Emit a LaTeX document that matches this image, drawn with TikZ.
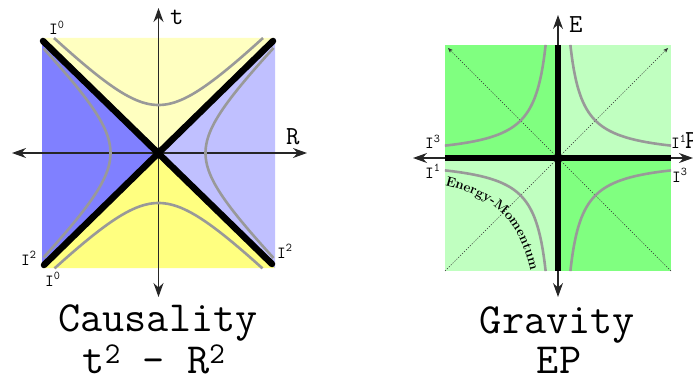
\documentclass[tikz,border=0pt]{standalone}
\usetikzlibrary{arrows.meta,decorations.text}
\definecolor{ylight}{HTML}{FFFFC0}
\definecolor{ydark}{HTML}{FFFF80}
\definecolor{bdark}{HTML}{8080FF}
\definecolor{blight}{HTML}{C0C0FF}
\definecolor{gdark}{HTML}{80FF80}
\definecolor{glight}{HTML}{C0FFC0}
\definecolor{hypgray}{HTML}{999999}
\tikzset{
  axisline/.style={line width=1.2pt, black!85, {Stealth[length=14pt,width=10pt]}-{Stealth[length=14pt,width=10pt]}},
  hyp/.style={line width=2.6pt, hypgray},
  lightcone/.style={line width=6.5pt, black, line cap=round},
  zeroline/.style={line width=5.5pt, black},
  diagline/.style={line width=0.5pt, black!80, dash pattern=on 1.2pt off 1.5pt, -{Stealth[length=5pt,width=4pt]}},
  lab/.style={font=\ttfamily\fontsize{17}{17}\selectfont, inner sep=0pt, anchor=base west},
  axlab/.style={font=\ttfamily\fontsize{26}{26}\selectfont, inner sep=0pt, anchor=base west},
  title/.style={font=\ttfamily\fontsize{43}{43}\selectfont, inner sep=0pt, anchor=base}
}
\begin{document}
\begin{tikzpicture}[x=1pt,y=-1pt]
\useasboundingbox (0,0) rectangle (693,377);
% ---------------- left diagram ----------------
\coordinate (LC) at (158.5,153);
\coordinate (LTL) at (42,38);
\coordinate (LTR) at (275,38);
\coordinate (LBL) at (42,268);
\coordinate (LBR) at (275,268);
\fill[ylight] (LTL) -- (LTR) -- (LC) -- cycle;
\fill[ydark] (LBL) -- (LBR) -- (LC) -- cycle;
\fill[bdark] (LTL) -- (LBL) -- (LC) -- cycle;
\fill[blight] (LTR) -- (LBR) -- (LC) -- cycle;
\coordinate (LW) at (12,153);
\coordinate (LE) at (307,153);
\coordinate (LN) at (158.5,8);
\coordinate (LS) at (158.5,297);
\draw[axisline] (LW) -- (LE);
\draw[axisline] (LN) -- (LS);
\draw[hyp] plot[domain=-104.5:104.5, samples=60] ({158.5+\x},{153-sqrt(2304+\x*\x)});
\draw[hyp] plot[domain=-104:104, samples=60] ({158.5+\x},{153+sqrt(2500+\x*\x)});
\draw[hyp] plot[domain=-104.5:104.5, samples=60] ({158.5-sqrt(2304+\x*\x)},{153+\x});
\draw[hyp] plot[domain=-105:105, samples=60] ({158.5+sqrt(2209+\x*\x)},{153+\x});
\coordinate (XA) at (43,41);
\coordinate (XB) at (272,264);
\coordinate (XC) at (273,41);
\coordinate (XD) at (44,265);
\draw[lightcone] (XA) -- (XB);
\draw[lightcone] (XC) -- (XD);
\node[axlab] (tlab) at (170,25) {t};
\node[axlab] (Rlab) at (286,144) {R};
\node[lab] (l1) at (49,35) {I\textsuperscript{0}};
\node[lab] (l2) at (21,265) {I\textsuperscript{2}};
\node[lab] (l3) at (45,286) {I\textsuperscript{0}};
\node[lab] (l4) at (277,258) {I\textsuperscript{2}};
\node[title] (caus) at (158,331) {Causality};
\node[title] (tr) at (154,373) {t\textsuperscript{2} - R\textsuperscript{2}};
% ---------------- right diagram ----------------
\coordinate (RC) at (558,158);
\fill[gdark] (445,45) rectangle (RC);
\fill[glight] (671,45) rectangle (RC);
\fill[glight] (445,271) rectangle (RC);
\fill[gdark] (671,271) rectangle (RC);
\coordinate (DA) at (671,271);
\coordinate (DB) at (448,48);
\coordinate (DC) at (445,271);
\coordinate (DD) at (668,48);
\draw[diagline] (DA) -- (DB);
\draw[diagline] (DC) -- (DD);
\coordinate (RW) at (413,158);
\coordinate (RE) at (693,158);
\coordinate (RN) at (558,15);
\coordinate (RS) at (558,297);
\draw[axisline] (RW) -- (RE);
\draw[axisline] (RN) -- (RS);
\draw[hyp] plot[domain=-1.106:1.106, samples=60] ({558-37.42*exp(\x)},{158-37.42*exp(-\x)});
\draw[hyp] plot[domain=-1.106:1.106, samples=60] ({558+37.42*exp(\x)},{158-37.42*exp(-\x)});
\draw[hyp] plot[domain=-1.106:1.106, samples=60] ({558-37.42*exp(\x)},{158+37.42*exp(-\x)});
\draw[hyp] plot[domain=-1.106:1.106, samples=60] ({558+37.42*exp(\x)},{158+37.42*exp(-\x)});
\coordinate (ZA) at (558,45);
\coordinate (ZB) at (558,271);
\coordinate (ZC) at (445,158);
\coordinate (ZD) at (671,158);
\draw[zeroline] (ZA) -- (ZB);
\draw[zeroline] (ZC) -- (ZD);
\path[decorate, decoration={text along path, text align=center,
  text={|\fontsize{13.5}{13.5}\bfseries\selectfont|Energy-Momentum}}]
  plot[domain=-0.72:0.72, samples=60] ({558-55.68*exp(-\x)},{158+55.68*exp(\x)});
\node[axlab] (Elab) at (569,33) {E};
\node[axlab] (Plab) at (685,148) {P};
\node[lab] (r1) at (425,149) {I\textsuperscript{3}};
\node[lab] (r2) at (425,178) {I\textsuperscript{1}};
\node[lab] (r3) at (671,149) {I\textsuperscript{1}};
\node[lab] (r4) at (672,182) {I\textsuperscript{3}};
\node[title] (grav) at (557.5,333) {Gravity};
\node[title] (ep) at (559,373) {EP};
\end{tikzpicture}
\end{document}
